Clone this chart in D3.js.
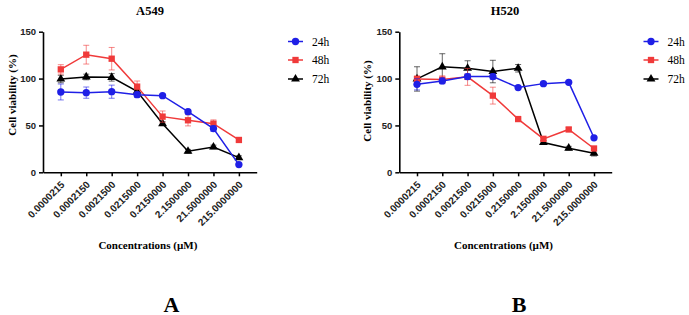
<!DOCTYPE html>
<html>
<head>
<meta charset="utf-8">
<script src="https://cdn.jsdelivr.net/npm/d3@7"></script>
<style>
  body { margin: 0; background: #fff; }
  svg { display: block; }
</style>
</head>
<body>
<div id="chart"></div>
<script>
// concentrations (µM), shared by both panels
const concentrations = ["0.0000215", "0.0002150", "0.0021500", "0.0215000", "0.2150000", "2.1500000", "21.5000000", "215.0000000"];
const seriesNames = ["24h", "48h", "72h"];
const yTicks = [0, 50, 100, 150];

// A549 cell viability (%) and error
const a549_24h = [85.7, 85, 86, 82.8, 81.8, 64.7, 46.6, 8.2];
const a549_24hErr = [8.5, 6, 7, 3, 1, 2, 3, 1];
const a549_48h = [109.8, 125.5, 121.2, 91.4, 59.4, 55.5, 51.9, 34.5];
const a549_48hErr = [5, 10, 12, 6, 6, 6, 4, 2];
const a549_72h = [99.5, 101.7, 101.3, 86.4, 51.9, 22.4, 27, 15.6];
const a549_72hErr = [4, 3, 4, 2, 2, 2, 2, 2];

// H520 cell viability (%) and error
const h520_24h = [93.9, 97.5, 102.1, 102.1, 90.4, 94.6, 96, 36.8];
const h520_24hErr = [6, 3, 3, 3, 1, 1, 1, 1];
const h520_48h = [99.6, 98.9, 101.8, 81.8, 56.8, 35.7, 45.7, 25.4];
const h520_48hErr = [3, 4, 9, 9, 1, 2, 2, 2];
const h520_72h = [99.6, 112.5, 111, 107.5, 111, 31.8, 25.7, 20.4];
const h520_72hErr = [13, 14, 8, 12, 4, 2, 2, 3];

const colors = { "24h": "#1f1fe6", "48h": "#f03a3a", "72h": "#000000" };
const shapes = { "24h": d3.symbolCircle, "48h": d3.symbolSquare, "72h": d3.symbolTriangle };
const sizes = { "24h": 42, "48h": 40, "72h": 34 };

const width = 689, height = 315;
const serif = "'Liberation Serif', 'Times New Roman', serif";
const sans = "'Liberation Sans', Arial, sans-serif";

const svg = d3.select("#chart").append("svg")
    .attr("width", width)
    .attr("height", height);

function panel(opt) {
    const { left, right, title, titleX, series, letter, letterX, yLabelX, yLabelY, legendX } = opt;
    const top = 31.7, bottom = 172.3;

    const x = d3.scalePoint()
        .domain(concentrations)
        .range([left, right])
        .padding(0.7);

    const y = d3.scaleLinear()
        .domain([0, 150])
        .range([bottom, top]);

    const g = svg.append("g");

    // x axis
    g.append("g")
        .attr("transform", `translate(0,${bottom})`)
        .call(d3.axisBottom(x).tickSize(4).tickSizeOuter(0))
        .call(a => a.select(".domain").attr("stroke-width", 1.6))
        .call(a => a.selectAll(".tick line").attr("stroke-width", 1.5))
        .selectAll("text")
        .attr("x", 0).attr("y", 0).attr("dy", 0)
        .attr("transform", "translate(4,13) rotate(-45)")
        .attr("text-anchor", "end")
        .style("font-family", sans)
        .style("font-weight", "bold")
        .style("font-size", "10px")
        .attr("fill", "#222");

    // y axis
    g.append("g")
        .attr("transform", `translate(${left},0)`)
        .call(d3.axisLeft(y).tickValues(yTicks).tickSize(4).tickSizeOuter(0))
        .call(a => a.select(".domain").attr("stroke-width", 1.6))
        .call(a => a.selectAll(".tick line").attr("stroke-width", 1.5))
        .selectAll("text")
        .style("font-family", sans)
        .style("font-weight", "bold")
        .style("font-size", "9.5px")
        .attr("fill", "#222");

    // titles
    g.append("text")
        .attr("x", titleX).attr("y", 15)
        .attr("text-anchor", "middle")
        .style("font-family", serif).style("font-weight", "bold").style("font-size", "12.5px")
        .text(title);

    g.append("text")
        .attr("transform", `translate(${yLabelX},${yLabelY}) rotate(-90)`)
        .attr("text-anchor", "middle")
        .style("font-family", serif).style("font-weight", "bold").style("font-size", "11px")
        .text("Cell viability (%)");

    g.append("text")
        .attr("x", (left + right) / 2 - 2).attr("y", 249)
        .attr("text-anchor", "middle")
        .style("font-family", serif).style("font-weight", "bold").style("font-size", "11px")
        .text("Concentrations (µM)");

    g.append("text")
        .attr("x", letterX).attr("y", 311.5)
        .attr("text-anchor", "middle")
        .style("font-family", serif).style("font-weight", "bold").style("font-size", "22px")
        .text(letter);

    const line = d3.line()
        .x(d => x(d.c))
        .y(d => y(d.v));

    // draw 72h first so 24h ends on top
    [...series].reverse().forEach(s => {
        const data = concentrations.map((c, i) => ({ c: c, v: s.values[i], e: s.err[i] }));
        const col = colors[s.name];
        const sg = g.append("g");

        // error bars
        const eb = sg.append("g")
            .attr("stroke", col)
            .attr("stroke-opacity", 0.6)
            .attr("stroke-width", 1);
        eb.selectAll("line.v").data(data).join("line")
            .attr("x1", d => x(d.c)).attr("x2", d => x(d.c))
            .attr("y1", d => y(d.v + d.e)).attr("y2", d => y(d.v - d.e));
        eb.selectAll("line.t").data(data).join("line")
            .attr("x1", d => x(d.c) - 3).attr("x2", d => x(d.c) + 3)
            .attr("y1", d => y(d.v + d.e)).attr("y2", d => y(d.v + d.e));
        eb.selectAll("line.b").data(data).join("line")
            .attr("x1", d => x(d.c) - 3).attr("x2", d => x(d.c) + 3)
            .attr("y1", d => y(d.v - d.e)).attr("y2", d => y(d.v - d.e));

        sg.append("path")
            .datum(data)
            .attr("fill", "none")
            .attr("stroke", col)
            .attr("stroke-width", 1.5)
            .attr("d", line);

        sg.selectAll("path.m").data(data).join("path")
            .attr("class", "m")
            .attr("transform", d => `translate(${x(d.c)},${y(d.v)})`)
            .attr("d", d3.symbol(shapes[s.name], sizes[s.name]))
            .attr("fill", col);
    });

    // legend
    const lg = g.append("g");
    seriesNames.forEach((name, i) => {
        const ly = [41.5, 60, 79][i];
        lg.append("line")
            .attr("x1", legendX).attr("x2", legendX + 15)
            .attr("y1", ly).attr("y2", ly)
            .attr("stroke", colors[name]).attr("stroke-width", 1.5);
        lg.append("path")
            .attr("transform", `translate(${legendX + 7.5},${ly})`)
            .attr("d", d3.symbol(shapes[name], sizes[name]))
            .attr("fill", colors[name]);
        lg.append("text")
            .attr("x", legendX + 24).attr("y", ly + 4)
            .style("font-family", serif).style("font-size", "11.5px")
            .text(name);
    });
}

panel({
    left: 43, right: 256.7, title: "A549", titleX: 150,
    series: [
        { name: "24h", values: a549_24h, err: a549_24hErr },
        { name: "48h", values: a549_48h, err: a549_48hErr },
        { name: "72h", values: a549_72h, err: a549_72hErr }
    ],
    letter: "A", letterX: 171.5, yLabelX: 16, yLabelY: 95, legendX: 288
});

panel({
    left: 399.3, right: 611.7, title: "H520", titleX: 505,
    series: [
        { name: "24h", values: h520_24h, err: h520_24hErr },
        { name: "48h", values: h520_48h, err: h520_48hErr },
        { name: "72h", values: h520_72h, err: h520_72hErr }
    ],
    letter: "B", letterX: 519, yLabelX: 371, yLabelY: 101, legendX: 643.5
});
</script>
</body>
</html>
